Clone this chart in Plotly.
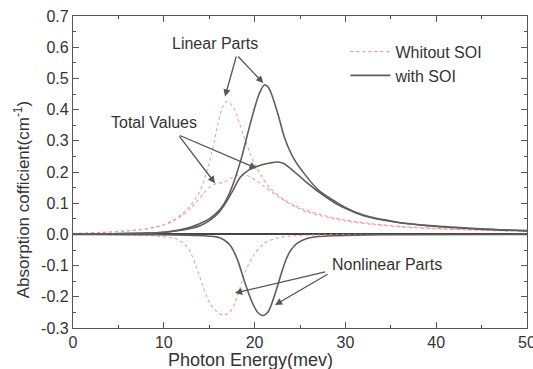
import plotly.graph_objects as go

# ---- data ----
red_lin_E = [0, 3, 6, 8, 9, 10, 11, 12, 13, 14, 14.5, 15, 15.5, 16, 16.5, 16.9, 17.3, 17.8, 18.4, 19.0, 19.5,
             20.0, 20.8, 21.5, 22.2, 23.2, 24.4, 26, 28, 30, 33, 36, 40, 45, 50]
red_lin_v = [0.003, 0.006, 0.012, 0.018, 0.024, 0.032, 0.045, 0.065, 0.095, 0.14, 0.18, 0.23, 0.29, 0.36, 0.41,
             0.426, 0.42, 0.40, 0.35, 0.30, 0.26, 0.225, 0.185, 0.155, 0.135, 0.112, 0.093, 0.074, 0.058, 0.046,
             0.034, 0.026, 0.019, 0.014, 0.011]

red_tot_E = [0, 3, 6, 8, 9, 10, 11, 12, 13, 14, 14.5, 15, 15.5, 15.9, 16.4, 17, 17.6, 18.2, 18.8, 19.4, 20.2,
             21, 22.1, 23.2, 24.4, 26, 28, 30, 33, 36, 40, 45, 50]
red_tot_v = [0.003, 0.006, 0.011, 0.017, 0.022, 0.03, 0.042, 0.06, 0.085, 0.118, 0.135, 0.15, 0.16, 0.164,
             0.166, 0.173, 0.183, 0.19, 0.191, 0.186, 0.172, 0.155, 0.132, 0.11, 0.09, 0.07, 0.055, 0.043,
             0.032, 0.024, 0.018, 0.013, 0.01]

red_non_E = [0, 5, 8.5, 9.6, 10.6, 11.4, 12.3, 12.9, 13.6, 14.35, 15.1, 16.0, 16.7, 17.3, 17.8, 18.2, 18.9,
             19.9, 21.0, 22.4, 24, 27, 35, 50]
red_non_v = [0, -0.001, -0.004, -0.007, -0.01, -0.015, -0.032, -0.056, -0.105, -0.17, -0.222, -0.252,
             -0.258, -0.248, -0.222, -0.19, -0.125, -0.067, -0.03, -0.012, -0.005, -0.002, -0.001, 0]

blk_lin_E = [0, 4, 8, 10, 11.5, 13, 14, 15, 15.8, 16.5, 17.2, 17.8, 18.6, 19.3, 20.0, 20.5, 21.07, 21.5, 21.9,
             22.6, 23.3, 24.3, 25.6, 27, 28.9, 30.1, 32, 35.6, 39.3, 44.8, 50]
blk_lin_v = [0.001, 0.002, 0.004, 0.007, 0.013, 0.024, 0.035, 0.05, 0.068, 0.092, 0.13, 0.175, 0.25, 0.33,
             0.405, 0.45, 0.479, 0.472, 0.447, 0.383, 0.31, 0.244, 0.19, 0.143, 0.105, 0.085, 0.062, 0.04,
             0.028, 0.018, 0.012]

blk_tot_E = [0, 4, 8, 10, 12.1, 14, 15.1, 16, 16.55, 17.1, 17.65, 18.4, 19.3, 20.0, 20.8, 21.7, 22.6, 23.2,
             23.7, 24.4, 25.2, 26, 27, 28.9, 30.1, 32, 35.6, 39.3, 44.8, 50]
blk_tot_v = [0.001, 0.002, 0.004, 0.007, 0.014, 0.028, 0.046, 0.068, 0.089, 0.115, 0.143, 0.182, 0.205,
             0.215, 0.223, 0.229, 0.232, 0.227, 0.217, 0.2, 0.18, 0.16, 0.137, 0.1, 0.082, 0.06, 0.039,
             0.027, 0.017, 0.011]

blk_non_E = [0, 8, 13.25, 15.8, 16.6, 17.3, 17.8, 18.2, 18.9, 19.7, 20.4, 20.96, 21.5, 22.2, 23.0, 23.5,
             24.0, 24.7, 25.7, 27, 29, 34, 50]
blk_non_v = [0, -0.001, -0.003, -0.008, -0.017, -0.035, -0.06, -0.088, -0.152, -0.216, -0.252, -0.26,
             -0.248, -0.195, -0.12, -0.078, -0.05, -0.028, -0.014, -0.007, -0.004, -0.001, 0]

x_ticks = [0, 10, 20, 30, 40, 50]
y_ticks = [-0.3, -0.2, -0.1, 0.0, 0.1, 0.2, 0.3, 0.4, 0.5, 0.6, 0.7]
y_ticktext = ["-0.3", "-0.2", "-0.1", "0.0", "0.1", "0.2", "0.3", "0.4", "0.5", "0.6", "0.7"]

legend_names = ["Whitout SOI", "with SOI"]
x_title = "Photon Energy(mev)"
y_title = "Absorption cofficient(cm<sup>-1</sup>)"

# ---- styles ----
FONT = "Liberation Sans, Arial, sans-serif"
RED = "#f29a9a"
BLK = "#5e5e5e"
red_line = dict(color=RED, width=1.1, dash="dot", shape="spline", smoothing=0.8)
blk_line = dict(color=BLK, width=1.6, shape="spline", smoothing=0.8)

fig = go.Figure()
red_sets = [(red_lin_E, red_lin_v), (red_tot_E, red_tot_v), (red_non_E, red_non_v)]
blk_sets = [(blk_lin_E, blk_lin_v), (blk_tot_E, blk_tot_v), (blk_non_E, blk_non_v)]
for i, (xs, ys) in enumerate(red_sets):
    fig.add_trace(go.Scatter(x=xs, y=ys, mode="lines", line=red_line, name=legend_names[0],
                             legendgroup="r", showlegend=(i == 0)))
for i, (xs, ys) in enumerate(blk_sets):
    fig.add_trace(go.Scatter(x=xs, y=ys, mode="lines", line=blk_line, name=legend_names[1],
                             legendgroup="b", showlegend=(i == 0)))

ann_font = dict(family=FONT, size=16, color="#333")
arrow = dict(showarrow=True, arrowhead=2, arrowsize=1.1, arrowwidth=1.3, arrowcolor="#555",
             axref="x", ayref="y", text="")
annotations = [
    dict(x=15.6, y=0.612, text="Linear Parts", showarrow=False, font=ann_font),
    dict(x=16.74, y=0.442, ax=18.03, ay=0.575, **arrow),
    dict(x=20.96, y=0.485, ax=18.03, ay=0.575, **arrow),
    dict(x=8.9, y=0.36, text="Total Values", showarrow=False, font=ann_font),
    dict(x=15.64, y=0.164, ax=11.6, ay=0.319, **arrow),
    dict(x=20.23, y=0.212, ax=11.6, ay=0.319, **arrow),
    dict(x=34.6, y=-0.098, text="Nonlinear Parts", showarrow=False, font=ann_font),
    dict(x=17.84, y=-0.188, ax=27.94, ay=-0.119, **arrow),
    dict(x=22.25, y=-0.226, ax=28.2, ay=-0.125, **arrow),
    # axis titles (placed as in the reference, off-centre)
    dict(xref="paper", yref="paper", x=0.39, y=-0.104, text=x_title, showarrow=False,
         xanchor="center", yanchor="middle", font=dict(family=FONT, size=18, color="#333")),
    dict(xref="paper", yref="paper", x=-0.112, y=0.41, text=y_title, showarrow=False, textangle=-90,
         xanchor="center", yanchor="middle", font=dict(family=FONT, size=17, color="#333")),
]

axis_common = dict(showline=True, linecolor="#555", linewidth=1.2, mirror="ticks", ticks="inside",
                   ticklen=6, tickcolor="#555", showgrid=False, ticklabeloverflow="allow",
                   automargin=False,
                   tickfont=dict(family=FONT, size=16, color="#333"))

fig.update_layout(
    width=533, height=369,
    margin=dict(l=73, r=6, t=16, b=41, pad=0, autoexpand=False),
    paper_bgcolor="white", plot_bgcolor="white",
    font=dict(family=FONT, color="#333"),
    showlegend=True,
    legend=dict(x=0.6, y=0.94, xanchor="left", yanchor="top", bgcolor="rgba(0,0,0,0)",
                font=dict(family=FONT, size=16, color="#333"), itemwidth=40, tracegroupgap=0),
    annotations=annotations,
    xaxis=dict(range=[0, 50], tickvals=x_ticks, zeroline=False,
               minor=dict(ticks="inside", ticklen=3, dtick=5, tickcolor="#555"),
               **axis_common),
    yaxis=dict(range=[-0.3, 0.7], tickvals=y_ticks, ticktext=y_ticktext,
               zeroline=True, zerolinecolor="#444", zerolinewidth=1.5,
               minor=dict(ticks="inside", ticklen=3, dtick=0.05, tick0=0, tickcolor="#555"),
               **axis_common),
)

fig.write_html("out.html")
